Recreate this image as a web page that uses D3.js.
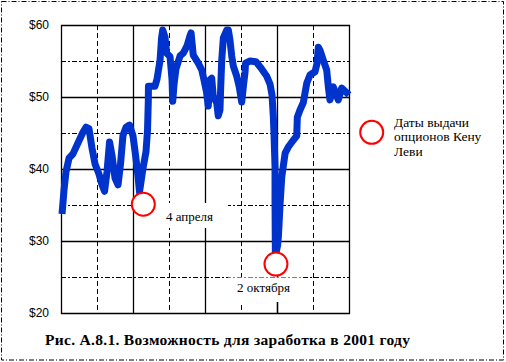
<!DOCTYPE html>
<html><head><meta charset="utf-8">
<script src="https://cdn.jsdelivr.net/npm/d3@7"></script>
<style>html,body{margin:0;padding:0;background:#fff}svg{display:block}</style>
</head><body>
<script>
// Trading-day index (0..248) and closing price, 2001
const days = [0.9,2.6,4.3,6.9,10.3,14.6,18.9,21.5,24.1,26.7,29.3,32.7,35.3,37.5,39.6,41.8,43.9,46.5,49.1,51.2,53.4,56.0,59.0,62.0,64.2,66.3,67.6,70.6,73.2,74.5,75.2,75.3,78.4,80.9,82.7,85.3,86.6,87.6,89.6,91.0,93.9,95.6,96.2,97.3,99.0,102.5,105.3,108.5,111.1,112.0,113.9,118.2,121.2,123.1,125.3,126.8,128.3,129.8,131.1,134.1,135.4,136.9,137.5,138.4,139.8,142.7,144.1,145.5,147.0,148.4,151.3,153.5,155.6,157.2,158.5,158.9,162.8,167.9,172.8,177.1,180.0,181.7,182.8,183.4,184.3,184.3,184.6,186.5,187.2,188.7,190.1,193.0,195.7,200.0,203.0,203.5,205.8,208.6,211.6,214.4,218.7,220.4,221.6,223.0,225.9,228.8,230.2,231.6,234.5,238.8,241.7,246.0,248.0];
const prices = [33.75,37.1,39.6,41.5,42.1,43.6,45.1,45.8,45.6,42.9,40.7,39.3,37.8,36.9,39.6,43.75,41.9,38.75,37.8,40.6,44.7,45.8,46.1,44.6,41.9,39.0,36.8,40.1,42.4,45.4,49.6,51.5,51.5,51.5,52.5,55.1,58.2,59.3,58.3,56.1,55.6,52.4,49.4,51.7,53.9,55.7,56.1,57.1,58.5,58.9,55.8,54.7,53.75,52.4,50.7,48.75,52.4,52.6,50.1,49.2,47.4,48.2,51.25,55.1,58.2,59.3,59.3,57.9,55.7,54.3,52.9,51.4,49.3,51.7,53.5,54.7,55.0,54.9,53.9,52.9,51.8,50.3,47.4,45.0,40.3,35.7,27.9,29.4,30.6,35.3,38.9,42.2,43.05,44.0,44.6,47.2,48.2,49.2,51.9,53.05,53.5,54.6,56.9,56.5,55.1,53.75,51.4,49.6,51.4,49.6,51.25,50.6,50.3];

// Option grant dates (circles)
const grantDays = [70.9, 185.1];
const grantPrices = [35.1, 26.8];
const grantLabels = ["4 апреля", "2 октября"];

const yTicks = [20, 30, 40, 50, 60];
const yMinor = [25, 35, 45, 55];
const xMajor = [0, 62, 124, 186, 248];
const xMinor = [31, 93, 155, 217];

const legendLines = ["Даты выдачи", "опционов Кену", "Леви"];
const title = "Рис. А.8.1. Возможность для заработка в 2001 году";

const W = 506, H = 362;
const svg = d3.select("body").append("svg").attr("width", W).attr("height", H);

const x = d3.scaleLinear().domain([0, 248]).range([61, 349]);
const y = d3.scaleLinear().domain([20, 60]).range([313, 25]);

// outer frame
svg.append("rect").attr("x", 1.5).attr("y", 1.5).attr("width", 502).attr("height", 358.5)
  .attr("fill", "none").attr("stroke", "#000").attr("stroke-width", 1)
  .attr("stroke-dasharray", "5,2,1,2");

const g = svg.append("g");
g.selectAll(".hmin").data(yMinor).join("line")
  .attr("x1", x(0)).attr("x2", x(248))
  .attr("y1", d => Math.round(y(d)) + 0.5).attr("y2", d => Math.round(y(d)) + 0.5)
  .attr("stroke", "#000").attr("stroke-dasharray", "5,2,2,2");
g.selectAll(".vmin").data(xMinor).join("line")
  .attr("x1", d => Math.round(x(d)) + 0.5).attr("x2", d => Math.round(x(d)) + 0.5)
  .attr("y1", y(60)).attr("y2", y(20))
  .attr("stroke", "#000").attr("stroke-dasharray", "5,3");
g.selectAll(".hmaj").data(yTicks).join("line")
  .attr("x1", x(0)).attr("x2", x(248) + 1)
  .attr("y1", d => Math.round(y(d)) + 0.5).attr("y2", d => Math.round(y(d)) + 0.5)
  .attr("stroke", "#000").attr("stroke-width", 1.3);
g.selectAll(".vmaj").data(xMajor).join("line")
  .attr("x1", d => Math.round(x(d)) + 0.5).attr("x2", d => Math.round(x(d)) + 0.5)
  .attr("y1", y(60)).attr("y2", y(20) + 1)
  .attr("stroke", "#000").attr("stroke-width", 1.3);

// y labels
svg.selectAll(".yl").data(yTicks).join("text")
  .attr("x", 49).attr("y", d => y(d) + 4)
  .attr("text-anchor", "end")
  .attr("font-family", "Liberation Sans, Arial, sans-serif").attr("font-size", 12)
  .text(d => "$" + d);

// price line
const line = d3.line().x(d => x(d[0])).y(d => y(d[1]));
svg.append("path").datum(days.map((d, i) => [d, prices[i]]))
  .attr("d", line).attr("fill", "none").attr("stroke", "#0033cc")
  .attr("stroke-width", 7).attr("stroke-linejoin", "round").attr("stroke-linecap", "butt");

// label boxes
const labelPos = [
  {box: [150, 203, 78, 25], tx: 166, ty: 221},
  {box: [228, 277.5, 74, 24.5], tx: 237, ty: 292}
];
labelPos.forEach((p, i) => {
  svg.append("rect").attr("x", p.box[0]).attr("y", p.box[1]).attr("width", p.box[2]).attr("height", p.box[3]).attr("fill", "#fff");
  svg.append("text").attr("x", p.tx).attr("y", p.ty)
    .attr("font-family", "Liberation Serif, Times New Roman, serif").attr("font-size", 13)
    .text(grantLabels[i]);
});
svg.append("line").attr("x1", Math.round(x(186)) + 0.5).attr("x2", Math.round(x(186)) + 0.5)
  .attr("y1", 302).attr("y2", y(20)).attr("stroke", "#000").attr("stroke-width", 1.3);

// grant circles
svg.selectAll(".gc").data(grantDays).join("circle")
  .attr("cx", d => x(d)).attr("cy", (d, i) => y(grantPrices[i])).attr("r", 11.5)
  .attr("fill", "#fff").attr("stroke", "#ff0000").attr("stroke-width", 2);

// legend
svg.append("circle").attr("cx", 371.7).attr("cy", 132.3).attr("r", 11.5)
  .attr("fill", "#fff").attr("stroke", "#ff0000").attr("stroke-width", 2);
svg.selectAll(".lg").data(legendLines).join("text")
  .attr("x", 394).attr("y", (d, i) => 126.5 + i * 14.7)
  .attr("font-family", "Liberation Serif, Times New Roman, serif").attr("font-size", 13.5)
  .text(d => d);

// title
svg.append("text").attr("x", 45).attr("y", 344.5)
  .attr("font-family", "Liberation Serif, Times New Roman, serif").attr("font-size", 15.5)
  .attr("font-weight", "bold")
  .attr("textLength", 365).attr("lengthAdjust", "spacing")
  .text(title);
</script>
</body></html>
